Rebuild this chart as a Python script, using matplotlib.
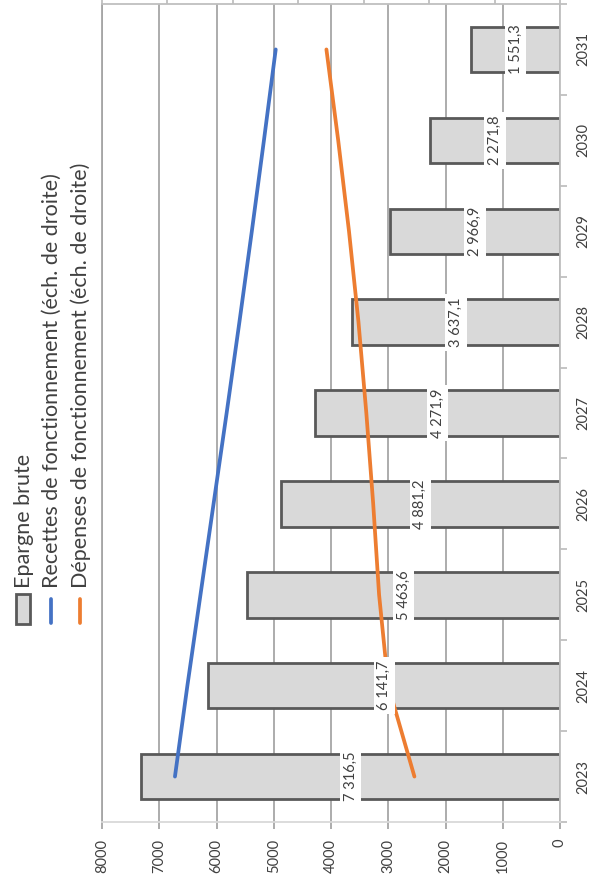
import numpy as np
import matplotlib
matplotlib.use("Agg")
import matplotlib.pyplot as plt
from matplotlib.patches import Rectangle
from matplotlib.lines import Line2D

# data
years = ['2023', '2024', '2025', '2026', '2027', '2028', '2029', '2030', '2031']
epargne = [7316.5, 6141.7, 5463.6, 4881.2, 4271.9, 3637.1, 2966.9, 2271.8, 1551.3]
epargne_labels = ['7 316,5', '6 141,7', '5 463,6', '4 881,2', '4 271,9',
                  '3 637,1', '2 966,9', '2 271,8', '1 551,3']
recettes = [11770, 11390, 10990, 10590, 10190, 9800, 9420, 9050, 8690]
depenses = [4450, 5250, 5530, 5710, 5920, 6160, 6450, 6780, 7140]
left_ticks = list(range(0, 8001, 1000))
right_ticks = list(range(0, 14001, 2000))

legend_names = ['Epargne brute',
                'Recettes de fonctionnement (éch. de droite)',
                'Dépenses de fonctionnement (éch. de droite)']

plt.rcParams['font.family'] = ['Lato', 'DejaVu Sans']
txt_col = '#404040'
grid_col = '#a6a6a6'
blue = '#4472C4'
orange = '#ED7D31'

W, H = 596, 889
fig = plt.figure(figsize=(W / 100, H / 100), dpi=100)

# the chart is drawn turned a quarter turn: years run upwards, values leftwards
ax = fig.add_axes([102 / W, (H - 822) / H, 458 / W, 818 / H])
pos = np.arange(len(years))
ax.barh(pos, epargne, height=0.5, color='#d9d9d9', edgecolor='#595959',
        linewidth=2, zorder=2)
ax.set_xlim(8000, 0)
ax.set_ylim(-0.5, len(years) - 0.5)
ax.set_xticks(left_ticks)
ax.xaxis.grid(True, color=grid_col, linewidth=1.3)
ax.set_axisbelow(True)
ax.tick_params(axis='x', direction='out', length=5, width=1.3, color=grid_col,
               labelrotation=90, labelsize=10.5, labelcolor=txt_col, pad=7)

ax.yaxis.tick_right()
ax.set_yticks(pos, years)
ax.set_yticks(np.arange(-0.5, len(years), 1), minor=True)
ax.tick_params(axis='y', which='major', length=0, labelrotation=90,
               labelsize=10.5, labelcolor=txt_col, pad=12)
ax.tick_params(axis='y', which='minor', length=5, width=1.3, color='#bfbfbf',
               direction='out')
for lab in ax.get_yticklabels():
    lab.set_va('center')

ax.spines['left'].set_color(grid_col)
ax.spines['left'].set_linewidth(1.3)
ax.spines['bottom'].set_color('#d9d9d9')
ax.spines['bottom'].set_linewidth(1.3)
ax.spines['right'].set_color('#bfbfbf')
ax.spines['right'].set_linewidth(1.3)
ax.spines['top'].set_visible(False)

# secondary scale (its labels fall outside the picture)
ax2 = ax.twiny()
ax2.set_xlim(14000, 0)
ax2.set_xticks(right_ticks)
ax2.tick_params(axis='x', direction='out', length=4, width=1.3, color='#bfbfbf',
                labeltop=False)
for s in ['left', 'right', 'bottom']:
    ax2.spines[s].set_visible(False)
ax2.spines['top'].set_color('#bfbfbf')
ax2.spines['top'].set_linewidth(1.3)

ax2.plot(recettes, pos, color=blue, linewidth=2.7, solid_capstyle='round', zorder=3)
ax2.plot(depenses, pos, color=orange, linewidth=2.7, solid_capstyle='round', zorder=3)

for i, v in enumerate(epargne):
    ax2.text(v / 2, pos[i], epargne_labels[i], transform=ax.transData,
             rotation=90, ha='center', va='center', fontsize=10.5, color=txt_col,
             bbox=dict(boxstyle='square,pad=0.25', fc='white', ec='none'),
             zorder=5)

# legend, turned like the rest
lg = fig.add_axes([0, 0, 1, 1])
lg.set_xlim(0, W)
lg.set_ylim(H, 0)
lg.axis('off')
lg.patch.set_visible(False)
lg.add_patch(Rectangle((16, 594), 14, 30, facecolor='#d9d9d9',
                       edgecolor='#595959', linewidth=2))
lg.add_line(Line2D([51, 51], [599, 623], color=blue, linewidth=2.7,
                   solid_capstyle='round'))
lg.add_line(Line2D([80, 80], [599, 623], color=orange, linewidth=2.7,
                   solid_capstyle='round'))
for xc, name in zip([24, 52, 81], legend_names):
    lg.text(xc, 588, name, rotation=90, ha='center', va='bottom',
            fontsize=15.5, color=txt_col)

fig.savefig('out.png', dpi=100)
